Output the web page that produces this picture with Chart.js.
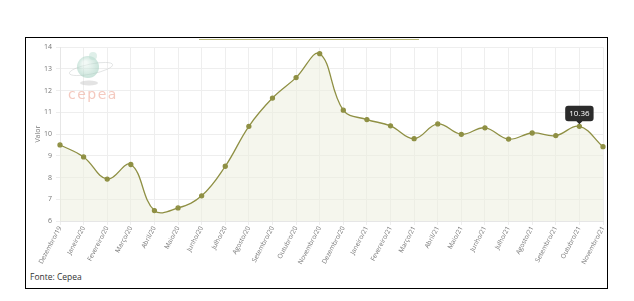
<!DOCTYPE html>
<html lang="pt">
<head>
<meta charset="UTF-8">
<title>Cepea</title>
<style>
  * { margin: 0; padding: 0; font-family: 'Open Sans', sans-serif; }
  body { width: 634px; height: 301px; background: #fff; position: relative; overflow: hidden; }
  #box { position: absolute; left: 25px; top: 37px; width: 581px; height: 250px; border: 1.5px solid #000; }
  #topline { position: absolute; left: 199px; top: 38.5px; width: 220px; height: 1.5px; background: #b9b97a; }
  #wrap { position: absolute; left: 27px; top: 39px; width: 580px; height: 228px; }
  #fonte { position: absolute; left: 30px; top: 271px; font-size: 8.5px; color: #333; }
</style>
</head>
<body>
<div id="box"></div>
<div id="topline"></div>
<div id="wrap"><canvas id="myChart"></canvas></div>
<div id="fonte">Fonte: Cepea</div>
<script src="https://cdn.jsdelivr.net/npm/chart.js@4.4.0/dist/chart.umd.min.js"></script>
<script>
const months = ['Dezembro/19', 'Janeiro/20', 'Fevereiro/20', 'Março/20', 'Abril/20', 'Maio/20',
  'Junho/20', 'Julho/20', 'Agosto/20', 'Setembro/20', 'Outubro/20', 'Novembro/20',
  'Dezembro/20', 'Janeiro/21', 'Fevereiro/21', 'Março/21', 'Abril/21', 'Maio/21',
  'Junho/21', 'Julho/21', 'Agosto/21', 'Setembro/21', 'Outubro/21', 'Novembro/21'];
const valores = [9.50, 8.95, 7.93, 8.60, 6.48, 6.60, 7.16, 8.52, 10.36, 11.66, 12.60, 13.70,
  11.10, 10.67, 10.38, 9.79, 10.47, 9.99, 10.29, 9.77, 10.05, 9.93, 10.36, 9.42];
const yTicks = [6, 7, 8, 9, 10, 11, 12, 13, 14];
const highlighted = 22;

const lineColor = '#8f9044';

// faint cepea logo behind the plot
const logo = {
  id: 'logo',
  beforeDatasetsDraw(chart) {
    const c = chart.ctx;
    c.save();
    c.globalAlpha = 0.5;
    c.fillStyle = '#c8c8c8';
    c.beginPath(); c.ellipse(62, 44, 9, 2.5, 0, 0, Math.PI * 2); c.fill();
    c.strokeStyle = '#c8cccc'; c.lineWidth = 1;
    c.beginPath(); c.ellipse(64, 30, 22, 5, -0.2, 0, Math.PI * 2); c.stroke();
    const g = c.createRadialGradient(58, 24, 2, 61, 28, 12);
    g.addColorStop(0, '#e6f4ee'); g.addColorStop(1, '#8fc6b2');
    c.fillStyle = g;
    c.beginPath(); c.arc(61, 28, 11, 0, Math.PI * 2); c.fill();
    c.fillStyle = '#bfe0d4';
    c.beginPath(); c.arc(66, 17, 4, 0, Math.PI * 2); c.fill();
    c.globalAlpha = 0.7;
    c.fillStyle = '#f0b2a4';
    c.font = '14px "DejaVu Sans", sans-serif';
    c.letterSpacing = '1.5px';
    c.textBaseline = 'middle';
    c.fillText('cepea', 41, 56);
    c.restore();
  }
};

const chart = new Chart('myChart', {
  type: 'line',
  data: {
    labels: months,
    datasets: [{
      data: valores,
      borderColor: lineColor,
      backgroundColor: 'rgba(235, 238, 220, 0.5)',
      fill: 'origin',
      borderWidth: 1.3,
      tension: 0.4,
      pointRadius: 2,
      pointBackgroundColor: lineColor,
      pointBorderColor: lineColor,
      pointHoverRadius: 2
    }]
  },
  options: {
    responsive: true,
    maintainAspectRatio: false,
    animation: false,
    layout: { padding: { top: 4, right: 4, left: 0, bottom: 0 } },
    plugins: {
      legend: { display: false },
      tooltip: {
        yAlign: 'bottom',
        backgroundColor: '#2b2b2b',
        displayColors: false,
        padding: { top: 3, bottom: 3, left: 4, right: 4 },
        caretSize: 3,
        cornerRadius: 3,
        bodyFont: { size: 8, family: 'Open Sans' },
        callbacks: {
          title: () => '',
          label: ctx => ctx.parsed.y.toFixed(2)
        }
      }
    },
    scales: {
      x: {
        grid: { color: '#eeeeee', tickLength: 4 },
        border: { color: '#e6e6e6' },
        ticks: {
          color: '#777',
          font: { size: 6.5, family: 'Open Sans' },
          minRotation: 62,
          maxRotation: 62,
          autoSkip: false,
          padding: 0
        },
        afterFit(s) { s.height = 46; s.paddingLeft = 0; s.paddingRight = 0; }
      },
      y: {
        min: 6,
        max: 14,
        afterBuildTicks(s) { s.ticks = yTicks.map(v => ({ value: v })); },
        grid: { color: '#eeeeee', tickLength: 4 },
        border: { color: '#e6e6e6' },
        title: { display: true, text: 'Valor', color: '#777', font: { size: 7, family: 'Open Sans' }, padding: { top: 7, bottom: 0 } },
        ticks: { color: '#777', font: { size: 7, family: 'Open Sans' }, padding: 4 },
        afterFit(s) { s.width = 33; }
      }
    }
  },
  plugins: [logo]
});

const pt = chart.getDatasetMeta(0).data[highlighted];
chart.tooltip.setActiveElements([{ datasetIndex: 0, index: highlighted }], { x: pt.x, y: pt.y });
chart.update();
</script>
</body>
</html>
